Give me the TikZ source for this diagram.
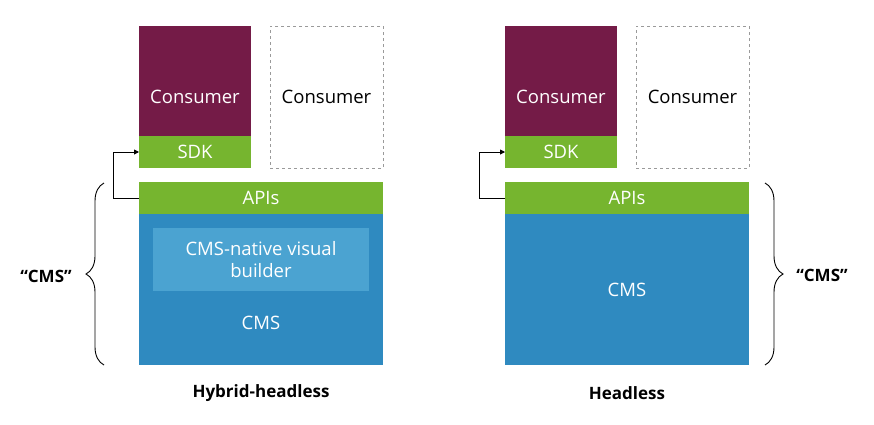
\documentclass[tikz,border=0pt]{standalone}
\usepackage{fontspec}
\setmainfont{Open Sans}
\newfontfamily\labfont{Open Sans}
\usetikzlibrary{decorations.pathreplacing,arrows.meta}
\definecolor{maroon}{HTML}{741B47}
\definecolor{leaf}{HTML}{76B52F}
\definecolor{cmsblue}{HTML}{2F8AC0}
\definecolor{vbblue}{HTML}{4BA3D1}
\definecolor{dashgray}{HTML}{9A9A9A}
\begin{document}
\begin{tikzpicture}[x=1pt,y=-1pt,
  box/.style={rectangle,inner sep=0pt,outer sep=0pt,font=\fontsize{18.5}{22}\selectfont},
  consbox/.style={box,fill=maroon,minimum width=112pt,minimum height=110pt},
  sdkbox/.style={box,fill=leaf,text=white,minimum width=112pt,minimum height=32pt},
  dashbox/.style={box,draw=dashgray,dashed,text=black,minimum width=113pt,minimum height=142pt},
  apibox/.style={box,fill=leaf,text=white,minimum width=244pt,minimum height=32pt},
  cmsbox/.style={box,fill=cmsblue,text=white,minimum width=244pt,minimum height=151pt},
  vbbox/.style={box,fill=vbblue,text=white,minimum width=216pt,minimum height=63pt,align=center},
  plain/.style={inner sep=0pt,text=white,font=\fontsize{18.5}{22}\selectfont},
  lab/.style={inner sep=0pt,font=\labfont\bfseries\fontsize{17}{20}\selectfont},
  conn/.style={draw=black,line width=0.9pt,-{Triangle[length=5pt,width=5pt]}},
  bracestyle/.style={draw=black,line width=0.9pt,decorate,decoration={brace,amplitude=18pt}}
]
\useasboundingbox (0,0) rectangle (874,424);
% left
\node[cmsbox] (cms1) at (261,289.5) {};
\node[vbbox] (vb1) at (261,259.5) {CMS-native visual\\builder};
\node[plain] (cmst1) at (261,323) {CMS};
\node[apibox] (api1) at (261,198) {APIs};
\node[consbox] (cons1) at (195,81) {};
\node[plain] (ct1) at (195,97) {Consumer};
\node[sdkbox] (sdk1) at (195,152) {SDK};
\node[dashbox] (dcons1) at (326.5,97) {Consumer};
\draw[conn] (api1.west) -- ++(-26,0) |- (sdk1.west);
\coordinate (lb1) at (104,365);
\coordinate (lt1) at (104,183);
\draw[bracestyle] (lb1) -- (lt1);
\node[lab] (q1) at (46,276) {“CMS”};
\node[lab] (t1) at (261,393) {Hybrid-headless};
% right
\node[cmsbox] (cms2) at (627,289.5) {CMS};
\node[apibox] (api2) at (627,198) {APIs};
\node[consbox] (cons2) at (561,81) {};
\node[plain] (ct2) at (561,97) {Consumer};
\node[sdkbox] (sdk2) at (561,152) {SDK};
\node[dashbox] (dcons2) at (692.5,97) {Consumer};
\draw[conn] (api2.west) -- ++(-26,0) |- (sdk2.west);
\coordinate (rt2) at (765,183);
\coordinate (rb2) at (765,365);
\draw[bracestyle] (rt2) -- (rb2);
\node[lab] (q2) at (822,275) {“CMS”};
\node[lab] (t2) at (627,393) {Headless};
\end{tikzpicture}
\end{document}
